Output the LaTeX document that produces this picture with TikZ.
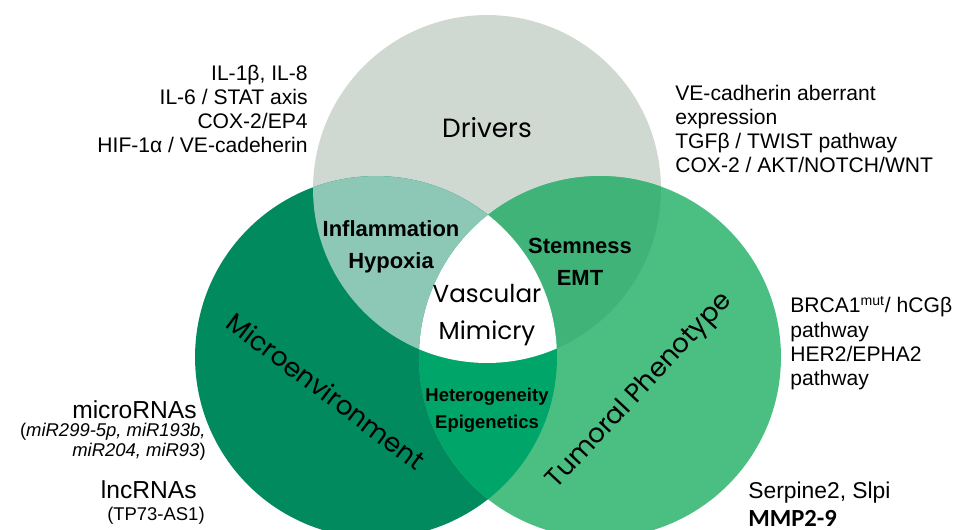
\documentclass[tikz,border=0pt]{standalone}
\usepackage{fontspec}
\setmainfont{Liberation Sans}
\newfontfamily\popfont{Poppins}
\newfontfamily\calfont{Carlito}
\usetikzlibrary{positioning}
\definecolor{drvgrey}{HTML}{CFD9D2}
\definecolor{micgreen}{HTML}{008A5E}
\definecolor{tumgreen}{HTML}{4BBE82}
\definecolor{inflgreen}{HTML}{8DC8B6}
\definecolor{stemgreen}{HTML}{40B478}
\definecolor{hetgreen}{HTML}{00A569}
\tikzstyle{every node}=[font=\small]
\tikzstyle{side}=[font=\fontsize{12}{13.8}\selectfont,inner sep=0pt]
\tikzstyle{lap}=[font=\bfseries\fontsize{12.5}{18}\selectfont,align=center,inner sep=0pt]
\tikzstyle{big}=[font=\popfont\fontsize{15}{21}\selectfont,align=center,inner sep=0pt]
\def\drvpath{(drv) circle[radius=3.48cm]}
\def\micpath{(mic) circle[radius=3.62cm]}
\def\tumpath{(tum) circle[radius=3.62cm]}

\begin{document}
\begin{tikzpicture}[x=0.02cm,y=-0.02cm]
  \useasboundingbox (0,0) rectangle (960,529);
  \clip (0,0) rectangle (960,529);
  \coordinate (drv) at (487,189);
  \coordinate (mic) at (376,357);
  \coordinate (tum) at (600,357);
  % the three sets
  \fill[drvgrey] \drvpath;
  \fill[micgreen] \micpath;
  \fill[tumgreen] \tumpath;
  % overlaps
  \begin{scope}
    \clip \drvpath; \fill[inflgreen] \micpath;
  \end{scope}
  \begin{scope}
    \clip \drvpath; \fill[stemgreen] \tumpath;
  \end{scope}
  \begin{scope}
    \clip \micpath; \fill[hetgreen] \tumpath;
  \end{scope}
  \begin{scope}
    \clip \drvpath; \clip \micpath; \fill[white] \tumpath;
  \end{scope}
  % labels of the sets
  \node[big] (drivers) at (487,128) {Drivers};
  \node[big,rotate=-37] (microenv) at (326,391) {Microenvironment};
  \node[big,rotate=47] (tumoral) at (640,391) {Tumoral Phenotype};
  \node[big,font=\popfont\fontsize{14}{21.5}\selectfont] (vm) at (487,315) {Vascular\\Mimicry};
  \node[lap] (infl) at (391,247) {Inflammation\\Hypoxia};
  \node[lap] (stem) at (580,262) {Stemness\\EMT};
  \node[lap,font=\bfseries\fontsize{10.5}{15.3}\selectfont] (het) at (487,410) {Heterogeneity\\Epigenetics};
  % side notes
  \node[side,align=right,anchor=east] (drvleft) at (308,109)
    {IL-1β, IL-8\\IL-6 / STAT axis\\COX-2/EP4\\HIF-1α / VE-cadeherin};
  \node[side,align=left,anchor=west] (drvright) at (675,129)
    {VE-cadherin aberrant\\expression\\TGFβ / TWIST pathway\\COX-2 / AKT/NOTCH/WNT};
  \node[side,align=left,anchor=west] (tumright) at (790,343)
    {BRCA1\textsuperscript{mut}/ hCGβ\\pathway\\HER2/EPHA2\\pathway};
  \node[side,font=\fontsize{13}{14}\selectfont,anchor=west] (serpine) at (748,493) {Serpine2, Slpi};
  \node[side,font=\calfont\bfseries\fontsize{14}{15}\selectfont,anchor=west] (mmp) at (748,518) {MMP2-9};
  \node[side,font=\fontsize{14}{15}\selectfont,anchor=east] (mirna) at (197,410) {microRNAs};
  \node[side,font=\fontsize{10.5}{11.3}\selectfont,align=right,anchor=east] (mirlist) at (206,442)
    {(\textit{miR299-5p, miR193b,}\\\textit{miR204, miR93})};
  \node[side,font=\fontsize{14}{15}\selectfont,anchor=east] (lnc) at (197,490) {lncRNAs};
  \node[side,font=\fontsize{10.5}{11.3}\selectfont,anchor=east] (tp73) at (205,516) {(TP73-AS1)};
\end{tikzpicture}
\end{document}
